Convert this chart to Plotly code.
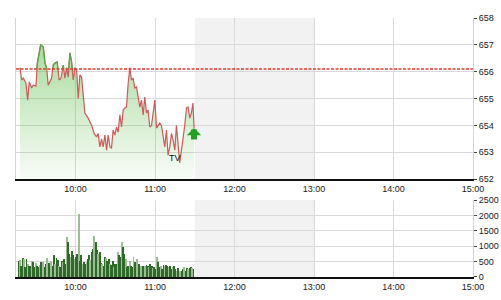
import plotly.graph_objects as go
import pandas as pd

day = "2016-03-15"

# Intraday index prices
times = ["09:18:00", "09:19:18", "09:20:30", "09:22:30", "09:23:48", "09:25:00", "09:26:48", "09:28:00",
         "09:30:06", "09:31:06", "09:33:36", "09:35:36", "09:36:54", "09:38:06", "09:39:18", "09:40:36",
         "09:41:54", "09:43:06", "09:44:24", "09:46:06", "09:47:36", "09:48:54", "09:50:42", "09:51:54",
         "09:53:12", "09:54:24", "09:55:42", "09:57:00", "09:58:12", "09:59:30", "10:00:48", "10:02:00",
         "10:03:12", "10:04:30", "10:05:42", "10:07:00", "10:09:30", "10:12:06", "10:14:00", "10:15:48",
         "10:17:00", "10:18:18", "10:19:36", "10:20:48", "10:22:06", "10:23:24", "10:24:36", "10:25:54",
         "10:27:06", "10:28:18", "10:29:36", "10:30:54", "10:32:06", "10:33:24", "10:34:42", "10:35:54",
         "10:37:12", "10:38:24", "10:39:42", "10:40:54", "10:42:12", "10:43:24", "10:44:42", "10:46:00",
         "10:47:12", "10:48:30", "10:49:42", "10:51:00", "10:52:12", "10:53:30", "10:54:42", "10:56:00",
         "10:57:18", "10:58:30", "10:59:48", "11:01:06", "11:02:18", "11:03:30", "11:04:48", "11:06:00",
         "11:07:18", "11:08:36", "11:09:48", "11:11:06", "11:12:24", "11:13:36", "11:14:54", "11:16:06",
         "11:17:18", "11:18:36", "11:19:54", "11:21:06", "11:22:24", "11:23:42", "11:24:54", "11:26:12",
         "11:27:24", "11:28:36", "11:29:24"]
prices = [656.14, 655.69, 655.76, 655.58, 654.94, 655.62, 655.39, 655.50,
          655.47, 656.32, 657.00, 656.92, 656.32, 656.17, 655.50, 655.62,
          655.76, 656.25, 656.32, 656.36, 655.69, 655.76, 656.25, 655.76,
          656.14, 655.80, 656.70, 656.36, 655.69, 656.14, 656.06, 655.00,
          655.88, 655.80, 655.06, 654.46, 654.27, 654.00, 653.70, 653.57,
          653.70, 653.20, 653.50, 653.20, 653.64, 653.08, 653.64, 653.20,
          653.16, 653.83, 653.64, 653.94, 653.75, 654.39, 653.94, 654.57,
          654.65, 654.68, 655.58, 656.14, 655.69, 655.76, 655.39, 655.43,
          655.06, 654.68, 654.94, 654.39, 655.06, 654.46, 654.57, 653.94,
          654.00, 654.39, 654.94, 653.90, 654.00, 654.09, 654.00, 653.57,
          653.20, 653.83, 652.89, 653.20, 653.70, 653.45, 653.08, 654.00,
          653.45, 652.60, 653.08, 653.45, 654.00, 654.65, 654.68, 654.27,
          654.46, 654.83, 653.90]
ref_price = 656.1

# Volume (one bar per minute of the morning session)
vol_first, vol_last = "09:17:00", "11:29:00"
volumes = [533, 566, 366, 610, 588, 311, 588, 422, 366, 344, 533, 477, 311, 455, 344, 311,
           389, 500, 366, 477, 311, 422, 622, 455, 311, 533, 366, 699, 422, 610, 566, 344,
           311, 533, 500, 588, 422, 1310, 1121, 755, 644, 844, 699, 588, 644, 755, 2031, 533,
           699, 422, 500, 422, 477, 588, 699, 566, 810, 921, 1343, 1143, 866, 755, 810, 455,
           422, 366, 644, 610, 533, 588, 422, 389, 533, 311, 422, 422, 810, 699, 644, 1143,
           977, 755, 588, 311, 366, 533, 366, 311, 644, 477, 366, 588, 422, 311, 366, 366,
           278, 344, 389, 366, 311, 422, 366, 278, 333, 255, 644, 477, 311, 366, 255, 389,
           344, 389, 366, 311, 344, 255, 311, 344, 255, 200, 278, 144, 200, 178, 255, 311,
           200, 278, 255, 278, 311, 278, 255]

lunch_start, lunch_end = "11:30", "13:00"
session_start, session_end = "09:15", "15:00"
tv_label, tv_time, tv_price = "TV", "11:15", 652.78

t = pd.to_datetime([f"{day} {s}" for s in times])
tn = t.asi8
vt = pd.date_range(f"{day} {vol_first}", f"{day} {vol_last}", periods=len(volumes))

# green segments above reference
gx, gy = [], []
for i, p in enumerate(prices):
    if i > 0:
        p0 = prices[i - 1]
        if (p0 - ref_price) * (p - ref_price) < 0:
            f = (ref_price - p0) / (p - p0)
            tc = tn[i - 1] + f * (tn[i] - tn[i - 1])
            gx.append(pd.Timestamp(int(tc)))
            gy.append(ref_price)
            if p < ref_price:
                gx.append(None)
                gy.append(None)
    if p >= ref_price:
        gx.append(t[i])
        gy.append(p)

fig = go.Figure()
fig.add_trace(go.Scatter(
    x=t, y=prices, mode="lines", line=dict(color="#cc5a5a", width=1.2),
    fill="tozeroy",
    fillgradient=dict(type="vertical", start=652, stop=657.3,
                      colorscale=[[0, "rgba(110,195,90,0.04)"], [1, "rgba(110,195,90,0.62)"]]),
    xaxis="x", yaxis="y", hoverinfo="skip"))
fig.add_trace(go.Scatter(x=gx, y=gy, mode="lines", line=dict(color="#55aa45", width=1.2),
                         connectgaps=False, xaxis="x", yaxis="y", hoverinfo="skip"))

bar_colors = ["#9dbb94" if i % 3 == 1 else "#2f6a2b" for i in range(len(volumes))]
fig.add_trace(go.Bar(x=vt, y=volumes, marker=dict(color=bar_colors, line=dict(width=0)),
                     width=42000, xaxis="x2", yaxis="y2", hoverinfo="skip"))

x_range = [f"{day} {session_start}", f"{day} {session_end}"]
axis_common = dict(showgrid=True, gridcolor="#d9d9d9", gridwidth=1, zeroline=False, automargin=False)

fig.update_layout(
    width=501, height=300,
    margin=dict(l=16, r=28, t=18, b=23),
    paper_bgcolor="white", plot_bgcolor="white",
    showlegend=False, bargap=0,
    font=dict(family="Liberation Sans, Arial, sans-serif", size=9, color="#1a1a1a"),
    xaxis=dict(domain=[0, 1], anchor="y", type="date", range=x_range,
               tick0=f"{day} 10:00", dtick=3600000, tickformat="%H:%M",
               showline=True, linecolor="#111", linewidth=2, ticks="", **axis_common),
    yaxis=dict(domain=[0.378, 1], anchor="x", range=[652, 658], dtick=1, side="right",
               ticks="outside", ticklen=3, tickcolor="#444",
               showline=True, mirror=True, linecolor="#d4d4d4", linewidth=1, **axis_common),
    xaxis2=dict(domain=[0, 1], anchor="y2", type="date", range=x_range, matches="x",
                tick0=f"{day} 10:00", dtick=3600000, tickformat="%H:%M",
                showline=True, linecolor="#111", linewidth=2, ticks="", **axis_common),
    yaxis2=dict(domain=[0, 0.297], anchor="x2", range=[0, 2500], dtick=500, side="right",
                ticks="outside", ticklen=3, tickcolor="#444",
                showline=True, mirror=True, linecolor="#d4d4d4", linewidth=1, **axis_common),
)

for yref in ("y domain", "y2 domain"):
    fig.add_shape(type="rect", xref="x", yref=yref,
                  x0=f"{day} {lunch_start}", x1=f"{day} {lunch_end}", y0=0, y1=1,
                  fillcolor="#f2f2f2", line=dict(width=0), layer="below")

fig.add_shape(type="line", xref="x domain", yref="y", x0=0, x1=1, y0=ref_price, y1=ref_price,
              line=dict(color="#e23b36", width=1.3, dash="3px,1.5px"), layer="above")

fig.add_annotation(x=f"{day} {tv_time}", y=tv_price, xref="x", yref="y", text=tv_label,
                   showarrow=False, font=dict(size=9, color="#111"))

fig.add_annotation(x=t[-1], y=prices[-1], xref="x", yref="y", text="",
                   showarrow=True, ax=0, ay=13, arrowhead=1, arrowsize=0.4, arrowwidth=6,
                   arrowcolor="#23a023")

fig.write_html("out.html")
